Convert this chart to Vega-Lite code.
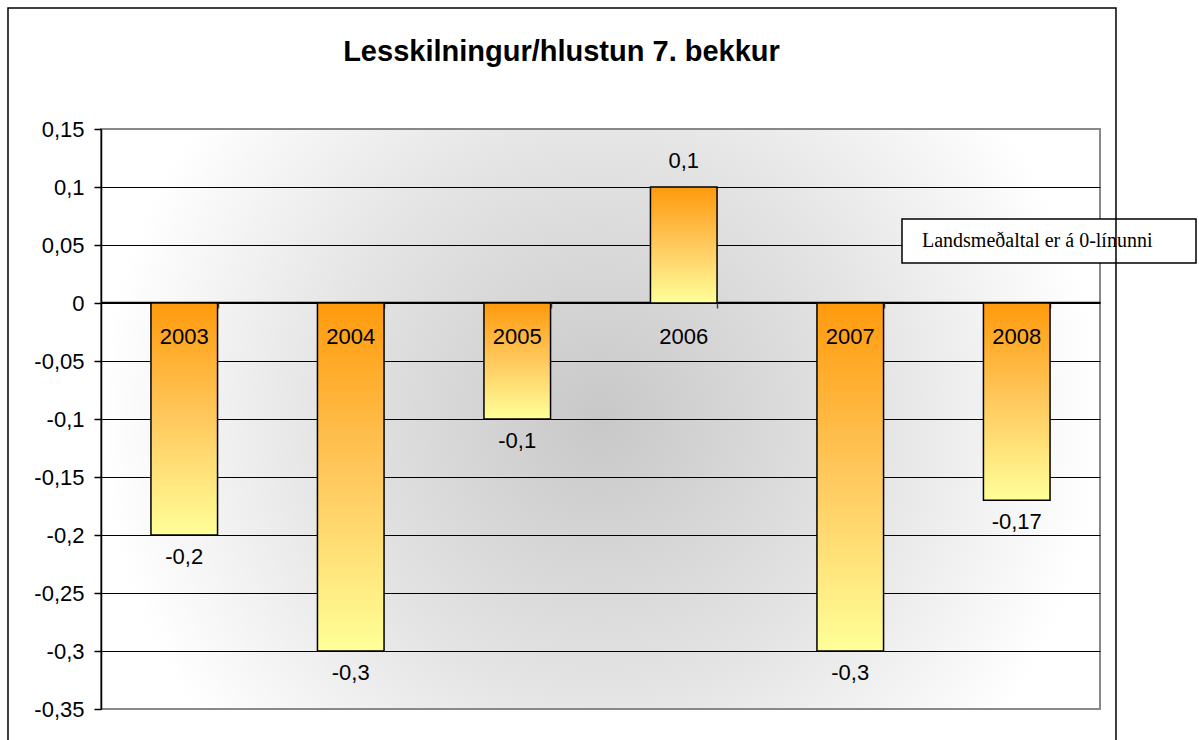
{
  "$schema": "https://vega.github.io/schema/vega-lite/v6.json",
  "autosize": "none",
  "width": 999,
  "height": 580,
  "padding": {"left": 101, "top": 129, "right": 99, "bottom": 31},
  "background": "white",
  "title": {
    "text": "Lesskilningur/hlustun 7. bekkur",
    "font": "Liberation Sans",
    "fontSize": 29,
    "fontWeight": "bold",
    "color": "black",
    "anchor": "middle",
    "dx": -39,
    "offset": -60
  },
  "config": {
    "locale": {"number": {"decimal": ",", "thousands": ".", "grouping": [3], "currency": ["", " kr."], "minus": "-"}},
    "view": {
      "stroke": "#888888",
      "strokeWidth": 2,
      "fill": {
        "gradient": "radial",
        "x1": 0.5, "y1": 0.5, "r1": 0,
        "x2": 0.5, "y2": 0.5, "r2": 0.5,
        "stops": [
          {"offset": 0, "color": "#c8c8c8"},
          {"offset": 0.55, "color": "#e4e4e4"},
          {"offset": 1, "color": "#ffffff"}
        ]
      }
    },
    "text": {"font": "Liberation Sans", "fontSize": 22, "color": "black"}
  },
  "data": {
    "values": [
      {"year": "2003", "v": -0.2},
      {"year": "2004", "v": -0.3},
      {"year": "2005", "v": -0.1},
      {"year": "2006", "v": 0.1},
      {"year": "2007", "v": -0.3},
      {"year": "2008", "v": -0.17}
    ]
  },
  "resolve": {"scale": {"x": "independent"}},
  "layer": [
    {
      "mark": {
        "type": "bar",
        "stroke": "black",
        "strokeWidth": 1.5,
        "color": {
          "gradient": "linear",
          "x1": 0, "y1": 0, "x2": 0, "y2": 1,
          "stops": [
            {"offset": 0, "color": "#ff9a0c"},
            {"offset": 0.5, "color": "#ffc95e"},
            {"offset": 1, "color": "#ffff99"}
          ]
        }
      },
      "encoding": {
        "x": {
          "field": "year",
          "type": "nominal",
          "scale": {"paddingInner": 0.6, "paddingOuter": 0.3},
          "axis": {
            "title": null,
            "labels": false,
            "offset": -407,
            "domainColor": "black",
            "domainWidth": 1.5,
            "tickColor": "#444444",
            "tickWidth": 1.5,
            "tickSize": 6,
            "tickBand": "extent",
            "grid": false
          }
        },
        "y": {
          "field": "v",
          "type": "quantitative",
          "scale": {"domain": [-0.35, 0.15], "nice": false, "zero": false},
          "axis": {
            "title": null,
            "values": [-0.35, -0.3, -0.25, -0.2, -0.15, -0.1, -0.05, 0, 0.05, 0.1, 0.15],
            "format": ".2~f",
            "labelFont": "Liberation Sans",
            "labelFontSize": 22,
            "labelColor": "black",
            "labelPadding": 10,
            "tickSize": 7,
            "tickColor": "black",
            "tickWidth": 1.5,
            "domainColor": "black",
            "domainWidth": 1.5,
            "grid": true,
            "gridColor": {"condition": {"test": "datum.value > 0.14 || datum.value < -0.34", "value": "#888888"}, "value": "black"},
            "gridWidth": 1.2,
            "gridOpacity": 1
          }
        }
      }
    },
    {
      "mark": {"type": "text", "dy": 34, "baseline": "middle", "align": "center"},
      "encoding": {
        "x": {"field": "year", "type": "nominal", "scale": {"paddingInner": 0.6, "paddingOuter": 0.3}, "axis": null},
        "y": {"datum": 0, "type": "quantitative", "scale": {"domain": [-0.35, 0.15], "nice": false, "zero": false}},
        "text": {"field": "year"}
      }
    },
    {
      "transform": [{"filter": "datum.v < 0"}],
      "mark": {"type": "text", "dy": 22, "baseline": "middle", "align": "center"},
      "encoding": {
        "x": {"field": "year", "type": "nominal", "scale": {"domain": ["2003", "2004", "2005", "2006", "2007", "2008"], "paddingInner": 0.6, "paddingOuter": 0.3}, "axis": null},
        "y": {"field": "v", "type": "quantitative", "scale": {"domain": [-0.35, 0.15], "nice": false, "zero": false}},
        "text": {"field": "v", "type": "quantitative", "format": ".2~f"}
      }
    },
    {
      "transform": [{"filter": "datum.v >= 0"}],
      "mark": {"type": "text", "dy": -26, "baseline": "middle", "align": "center"},
      "encoding": {
        "x": {"field": "year", "type": "nominal", "scale": {"domain": ["2003", "2004", "2005", "2006", "2007", "2008"], "paddingInner": 0.6, "paddingOuter": 0.3}, "axis": null},
        "y": {"field": "v", "type": "quantitative", "scale": {"domain": [-0.35, 0.15], "nice": false, "zero": false}},
        "text": {"field": "v", "type": "quantitative", "format": ".2~f"}
      }
    },
    {
      "data": {"values": [{"note": "Landsmeðaltal er á 0-línunni"}]},
      "mark": {"type": "rect", "fill": "white", "stroke": "black", "strokeWidth": 1.5},
      "encoding": {
        "x": {"datum": 0.8018, "type": "quantitative", "scale": {"domain": [0, 1], "nice": false, "zero": false}, "axis": null},
        "x2": {"datum": 1.0961},
        "y": {"datum": 0.0724, "type": "quantitative"},
        "y2": {"datum": 0.0345}
      }
    },
    {
      "data": {"values": [{"note": "Landsmeðaltal er á 0-línunni"}]},
      "mark": {"type": "text", "align": "left", "baseline": "middle", "font": "Liberation Serif", "fontSize": 20},
      "encoding": {
        "x": {"datum": 0.8218, "type": "quantitative", "scale": {"domain": [0, 1], "nice": false, "zero": false}, "axis": null},
        "y": {"datum": 0.0534, "type": "quantitative"},
        "text": {"field": "note"}
      }
    },
    {
      "data": {"values": [{"frame": "border"}]},
      "mark": {"type": "rect", "fill": null, "fillOpacity": 0, "stroke": "black", "strokeWidth": 1.5},
      "encoding": {
        "x": {"datum": -0.0931, "type": "quantitative", "scale": {"domain": [0, 1], "nice": false, "zero": false}, "axis": null},
        "x2": {"datum": 1.016},
        "y": {"datum": 0.2543, "type": "quantitative"},
        "y2": {"datum": -0.385}
      }
    }
  ]
}
